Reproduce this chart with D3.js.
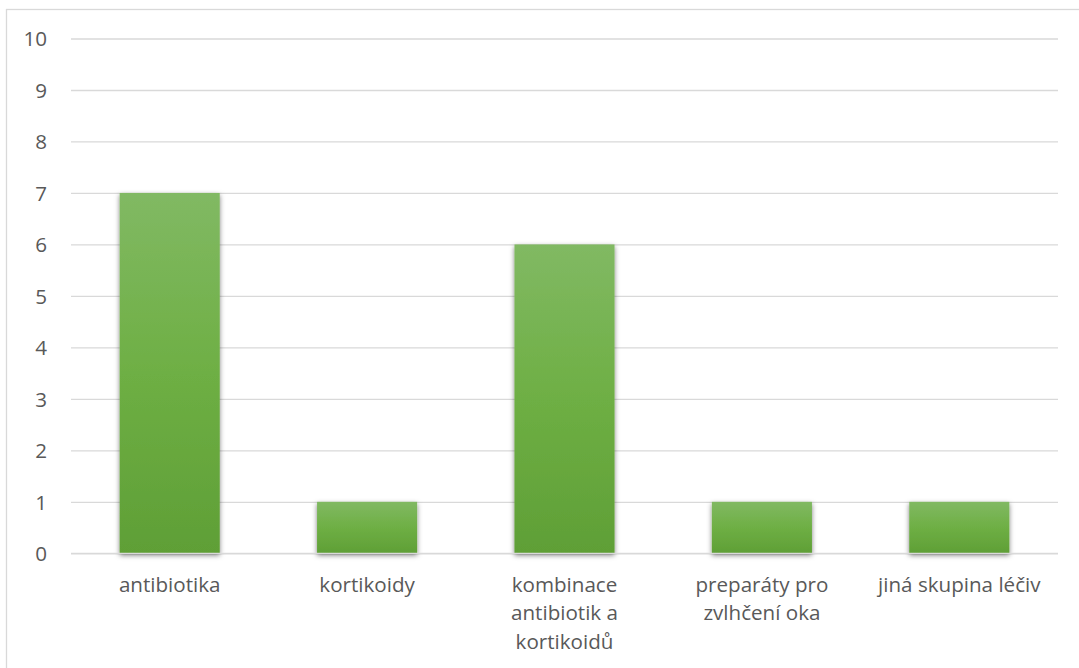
<!DOCTYPE html>
<html>
<head>
<meta charset="utf-8">
<script src="https://cdn.jsdelivr.net/npm/d3@7"></script>
<style>
  html, body { margin: 0; padding: 0; background: #fff; }
  svg { display: block; }
  text { font-family: "Open Sans", "Noto Sans", sans-serif; fill: #595959; }
</style>
</head>
<body>
<svg id="chart" width="1079" height="668"></svg>
<script>
// Drug groups and counts
const categories = [
  "antibiotika",
  "kortikoidy",
  "kombinace antibiotik a kortikoidů",
  "preparáty pro zvlhčení oka",
  "jiná skupina léčiv"
];
const values = [7, 1, 6, 1, 1];
const yTicks = [0, 1, 2, 3, 4, 5, 6, 7, 8, 9, 10];

const W = 1079, H = 668;
const margin = { left: 71, right: 21, top: 38.5, bottom: 115 };
const fontSize = "20.6px";
const svg = d3.select("#chart");

// chart frame
svg.append("rect")
  .attr("x", 6.5).attr("y", 9.5)
  .attr("width", W + 20).attr("height", H + 20)
  .attr("fill", "#fff").attr("stroke", "#d9d9d9").attr("stroke-width", 1.3);

const x = d3.scaleBand()
  .domain(categories)
  .range([margin.left, W - margin.right])
  .paddingInner(0.493).paddingOuter(0.2465);

const y = d3.scaleLinear().domain([0, 10]).range([553.3, margin.top]);

const defs = svg.append("defs");
const grad = defs.append("linearGradient")
  .attr("id", "barGrad").attr("x1", 0).attr("y1", 0).attr("x2", 0).attr("y2", 1);
grad.append("stop").attr("offset", "0%").attr("stop-color", "#81b963");
grad.append("stop").attr("offset", "50%").attr("stop-color", "#6eaf44");
grad.append("stop").attr("offset", "100%").attr("stop-color", "#5f9f36");

const shadow = defs.append("filter").attr("id", "barShadow")
  .attr("x", "-20%").attr("y", "-10%").attr("width", "140%").attr("height", "130%");
shadow.append("feDropShadow")
  .attr("dx", 0).attr("dy", 2).attr("stdDeviation", 2.4)
  .attr("flood-color", "#000").attr("flood-opacity", 0.5);

// gridlines and y axis labels
const yAxis = d3.axisLeft(y)
  .tickValues(yTicks)
  .tickSize(-(W - margin.right - margin.left))
  .tickPadding(24)
  .tickFormat(d3.format("d"));

const gy = svg.append("g")
  .attr("transform", `translate(${margin.left},0)`)
  .call(yAxis);
gy.select(".domain").remove();
gy.selectAll(".tick line").attr("stroke", "#d9d9d9").attr("stroke-width", 1.3);
gy.selectAll(".tick text")
  .style("font-size", fontSize)
  .attr("fill", "#595959")
  .attr("dy", "0.35em");

// bars
svg.append("g").selectAll("rect")
  .data(values)
  .join("rect")
  .attr("x", (d, i) => x(categories[i]))
  .attr("y", d => y(d))
  .attr("width", x.bandwidth())
  .attr("height", d => y(0) - y(d))
  .attr("fill", "url(#barGrad)")
  .attr("filter", "url(#barShadow)");

// zero axis line above bars' shadow
svg.append("line")
  .attr("x1", margin.left).attr("x2", W - margin.right)
  .attr("y1", y(0)).attr("y2", y(0))
  .attr("stroke", "#d9d9d9").attr("stroke-width", 1.3);

// category labels with word wrapping
const xAxis = d3.axisBottom(x).tickSize(0).tickPadding(0);
const gx = svg.append("g")
  .attr("transform", `translate(0,${y(0)})`)
  .call(xAxis);
gx.select(".domain").remove();
gx.selectAll(".tick text")
  .style("font-size", fontSize)
  .attr("fill", "#595959")
  .attr("y", 38.5)
  .attr("dy", 0)
  .each(function(d) {
    const t = d3.select(this);
    const words = d.split(" ");
    t.text(null);
    const maxW = 180;
    let line = [];
    let lineNo = 0;
    let tspan = t.append("tspan").attr("x", 0).attr("y", 38.5);
    for (const w of words) {
      line.push(w);
      tspan.text(line.join(" "));
      if (tspan.node().getComputedTextLength() > maxW && line.length > 1) {
        line.pop();
        tspan.text(line.join(" "));
        line = [w];
        lineNo++;
        tspan = t.append("tspan").attr("x", 0).attr("y", 38.5 + lineNo * 28.7).text(w);
      }
    }
  });
</script>
</body>
</html>
